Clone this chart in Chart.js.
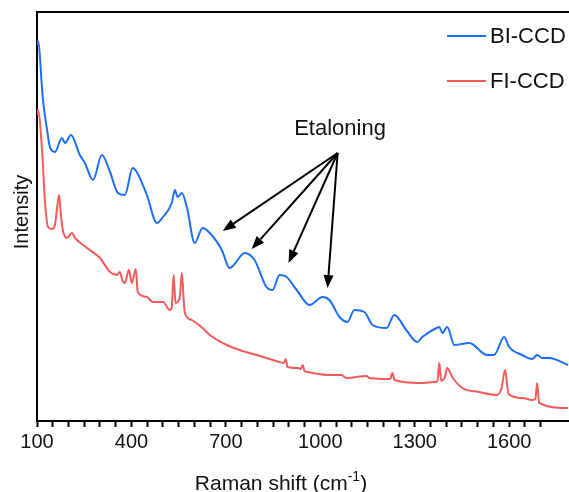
<!DOCTYPE html>
<html>
<head>
<meta charset="utf-8">
<script src="https://cdn.jsdelivr.net/npm/chart.js@4.4.1/dist/chart.umd.min.js"></script>
<style>
  html, body { margin: 0; padding: 0; background: #fff; }
  #wrap { width: 569px; height: 492px; }
</style>
</head>
<body>
<div id="wrap"><canvas id="raman"></canvas></div>
<script>
// Raman spectra (x = wavenumber, y = arbitrary intensity)
const biShift = [100, 103, 119, 132, 141, 157, 179, 189, 208, 236, 252, 278, 306, 332, 357, 379, 404, 417, 449, 481, 500, 528, 538, 547, 560, 576, 601, 626, 649, 687, 712, 760, 791, 829, 848, 871, 893, 925, 966, 1007, 1029, 1061, 1086, 1108, 1140, 1166, 1210, 1235, 1273, 1308, 1324, 1369, 1378, 1388, 1403, 1426, 1473, 1530, 1552, 1584, 1600, 1641, 1673, 1689, 1705, 1727, 1787];
const biIntensity = [376, 380, 321, 291, 274, 269, 283, 278, 286, 266, 258, 241, 266, 249, 228, 226, 253, 249, 226, 198, 204, 218, 231, 224, 228, 214, 178, 193, 188, 171, 153, 168, 161, 134, 131, 146, 144, 131, 116, 124, 121, 104, 99, 111, 109, 96, 93, 106, 91, 79, 84, 93, 94, 88, 94, 76, 78, 66, 66, 84, 74, 66, 62, 66, 63, 63, 56];

const fiShift = [100, 103, 116, 125, 135, 148, 157, 163, 170, 176, 182, 195, 211, 221, 259, 300, 332, 354, 363, 372, 379, 392, 401, 414, 420, 449, 468, 500, 522, 528, 534, 540, 547, 554, 560, 568, 576, 592, 626, 649, 703, 744, 798, 829, 871, 884, 890, 896, 928, 938, 944, 950, 959, 1029, 1067, 1083, 1147, 1156, 1222, 1229, 1236, 1315, 1362, 1372, 1378, 1384, 1396, 1403, 1419, 1451, 1505, 1559, 1575, 1587, 1598, 1641, 1673, 1683, 1689, 1695, 1787];
const fiIntensity = [306, 311, 271, 221, 194, 192, 196, 211, 226, 206, 191, 183, 188, 183, 173, 163, 149, 146, 149, 140, 138, 151, 138, 152, 129, 124, 119, 119, 111, 114, 146, 118, 119, 125, 148, 112, 104, 101, 93, 86, 76, 71, 66, 63, 59, 58, 62, 54, 53, 52, 56, 50, 49, 46, 46, 43, 45, 43, 42, 48, 41, 38, 39, 40, 58, 40, 44, 53, 44, 33, 29, 26, 32, 51, 27, 23, 21, 22, 38, 18, 13];

const seriesLabels = ['BI-CCD', 'FI-CCD'];
const seriesColors = ['#1c6ff2', '#f45a5a'];
const xTickLabels = [100, 400, 700, 1000, 1300, 1600];

// annotation: one label, four arrows pointing at the etaloning fringes
const arrowFrom = { x: 1055, y: 268 };
const arrowTo = [
    { x: 690, y: 190 },
    { x: 782, y: 172 },
    { x: 899, y: 158 },
    { x: 1023, y: 133 }
];
const noteText = 'Etaloning';

const FONT = '"Liberation Sans", Arial, sans-serif';

function toPoints(xs, ys) {
    return xs.map((x, i) => ({ x: x, y: ys[i] }));
}

// frame top, legend, arrows and titles
const decorations = {
    id: 'decorations',
    afterDraw(chart) {
        const ctx = chart.ctx;
        const area = chart.chartArea;
        const xs = chart.scales.x;
        const ys = chart.scales.y;
        ctx.save();

        // top frame line
        ctx.strokeStyle = '#000';
        ctx.lineWidth = 2;
        ctx.beginPath();
        ctx.moveTo(area.left - 1, area.top);
        ctx.lineTo(area.right, area.top);
        ctx.stroke();

        // legend
        ctx.font = '22px ' + FONT;
        ctx.textBaseline = 'middle';
        ctx.textAlign = 'left';
        ctx.fillStyle = '#111';
        [36, 81].forEach((yy, i) => {
            ctx.strokeStyle = seriesColors[i];
            ctx.lineWidth = 2;
            ctx.beginPath();
            ctx.moveTo(447, yy);
            ctx.lineTo(486, yy);
            ctx.stroke();
            ctx.fillText(seriesLabels[i], 490, yy + 1);
        });

        // arrows
        const fx = xs.getPixelForValue(arrowFrom.x);
        const fy = ys.getPixelForValue(arrowFrom.y);
        ctx.strokeStyle = '#000';
        ctx.fillStyle = '#000';
        arrowTo.forEach(p => {
            const tx = xs.getPixelForValue(p.x);
            const ty = ys.getPixelForValue(p.y);
            const ang = Math.atan2(ty - fy, tx - fx);
            const headLen = 13, headW = 5;
            const bx = tx - headLen * Math.cos(ang);
            const by = ty - headLen * Math.sin(ang);
            ctx.lineWidth = 2;
            ctx.beginPath();
            ctx.moveTo(fx, fy);
            ctx.lineTo(bx, by);
            ctx.stroke();
            ctx.beginPath();
            ctx.moveTo(tx, ty);
            ctx.lineTo(bx + headW * Math.sin(ang), by - headW * Math.cos(ang));
            ctx.lineTo(bx - headW * Math.sin(ang), by + headW * Math.cos(ang));
            ctx.closePath();
            ctx.fill();
        });

        ctx.fillStyle = '#111';
        ctx.font = '22px ' + FONT;
        ctx.textAlign = 'center';
        ctx.textBaseline = 'middle';
        ctx.fillText(noteText, 340, 129);

        // x title with superscript
        ctx.font = '21px ' + FONT;
        ctx.textAlign = 'left';
        ctx.textBaseline = 'alphabetic';
        const part1 = 'Raman shift (cm';
        const sup = '-1';
        const part2 = ')';
        const w1 = ctx.measureText(part1).width;
        ctx.font = '14px ' + FONT;
        const ws = ctx.measureText(sup).width;
        ctx.font = '21px ' + FONT;
        const w2 = ctx.measureText(part2).width;
        let x0 = 281 - (w1 + ws + w2) / 2;
        const base = 490;
        ctx.fillText(part1, x0, base);
        ctx.font = '14px ' + FONT;
        ctx.fillText(sup, x0 + w1, base - 9);
        ctx.font = '21px ' + FONT;
        ctx.fillText(part2, x0 + w1 + ws, base);

        // y title
        ctx.save();
        ctx.translate(22, 212);
        ctx.rotate(-Math.PI / 2);
        ctx.font = '20px ' + FONT;
        ctx.textAlign = 'center';
        ctx.textBaseline = 'middle';
        ctx.fillText('Intensity', 0, 0);
        ctx.restore();

        ctx.restore();
    }
};

const ctx = document.getElementById('raman').getContext('2d');
new Chart(ctx, {
    type: 'line',
    data: {
        datasets: [
            {
                label: seriesLabels[0],
                data: toPoints(biShift, biIntensity),
                borderColor: seriesColors[0],
                borderWidth: 2,
                pointRadius: 0,
                cubicInterpolationMode: 'monotone',
                fill: false
            },
            {
                label: seriesLabels[1],
                data: toPoints(fiShift, fiIntensity),
                borderColor: seriesColors[1],
                borderWidth: 2,
                pointRadius: 0,
                cubicInterpolationMode: 'monotone',
                fill: false
            }
        ]
    },
    options: {
        responsive: true,
        maintainAspectRatio: false,
        animation: false,
        layout: { padding: { top: 12, right: 0, left: 0, bottom: 0 } },
        plugins: {
            legend: { display: false },
            tooltip: { enabled: false }
        },
        scales: {
            x: {
                type: 'linear',
                min: 100,
                max: 1790,
                afterBuildTicks: s => {
                    s.ticks = s.ticks.filter(t => (t.value - 100) % 50 === 0);
                },
                afterFit: s => { s.height = 71; },
                ticks: {
                    stepSize: 50,
                    autoSkip: false,
                    maxRotation: 0,
                    padding: 3,
                    color: '#111',
                    font: { family: FONT, size: 20 },
                    callback: v => xTickLabels.includes(v) ? String(v) : ''
                },
                grid: {
                    drawOnChartArea: false,
                    tickLength: 6,
                    tickColor: '#000',
                    tickWidth: 2
                },
                border: { color: '#000', width: 2 }
            },
            y: {
                min: 0,
                max: 409,
                afterFit: s => { s.width = 37; },
                ticks: { display: false },
                grid: { drawOnChartArea: false, drawTicks: false },
                border: { color: '#000', width: 2 }
            }
        }
    },
    plugins: [decorations]
});
</script>
</body>
</html>
